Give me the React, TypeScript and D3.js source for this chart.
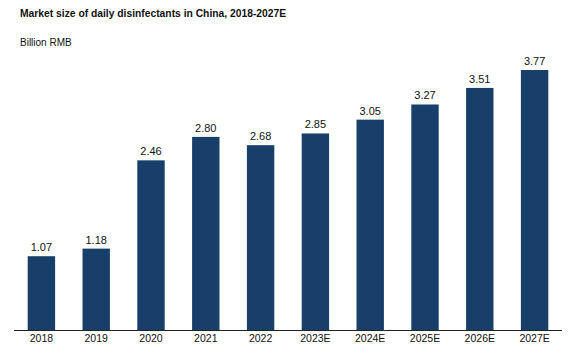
import * as d3 from 'd3'

const years = ['2018', '2019', '2020', '2021', '2022', '2023E', '2024E', '2025E', '2026E', '2027E']
const marketSize = [1.07, 1.18, 2.46, 2.8, 2.68, 2.85, 3.05, 3.27, 3.51, 3.77]

const title = 'Market size of daily disinfectants in China, 2018-2027E'
const unitLabel = 'Billion RMB'

export default function App() {
  const width = 570
  const height = 352
  const margin = { top: 70, right: 8, bottom: 22, left: 14 }
  const baseY = height - margin.bottom

  const x = d3.scaleBand<string>()
    .domain(years)
    .range([margin.left, width - margin.right])
    .paddingInner(0.5)
    .paddingOuter(0.25)

  const y = d3.scaleLinear()
    .domain([0, d3.max(marketSize) as number])
    .range([baseY, margin.top])

  const font = 'Arial, "Liberation Sans", sans-serif'

  return (
    <svg width={width} height={height} style={{ position: 'absolute', left: 0, top: 0, background: '#fff' }} fontFamily={font}>
      <text x={20} y={17} fontSize={10.3} fontWeight="bold" fill="#111">{title}</text>
      <text x={20} y={46} fontSize={10} fill="#111">{unitLabel}</text>

      {years.map((yr, i) => (
        <g key={yr}>
          <rect
            x={x(yr)}
            y={y(marketSize[i])}
            width={x.bandwidth()}
            height={baseY - y(marketSize[i])}
            fill="#183f6a"
          />
          <text
            x={(x(yr) as number) + x.bandwidth() / 2}
            y={y(marketSize[i]) - 5}
            textAnchor="middle"
            fontSize={11}
            fill="#111"
          >
            {marketSize[i].toFixed(2)}
          </text>
          <text
            x={(x(yr) as number) + x.bandwidth() / 2}
            y={baseY + 12}
            textAnchor="middle"
            fontSize={10.5}
            fill="#111"
          >
            {yr}
          </text>
        </g>
      ))}

      <line x1={margin.left} x2={width - margin.right} y1={baseY + 0.5} y2={baseY + 0.5} stroke="#222" strokeWidth={1} />
    </svg>
  )
}
